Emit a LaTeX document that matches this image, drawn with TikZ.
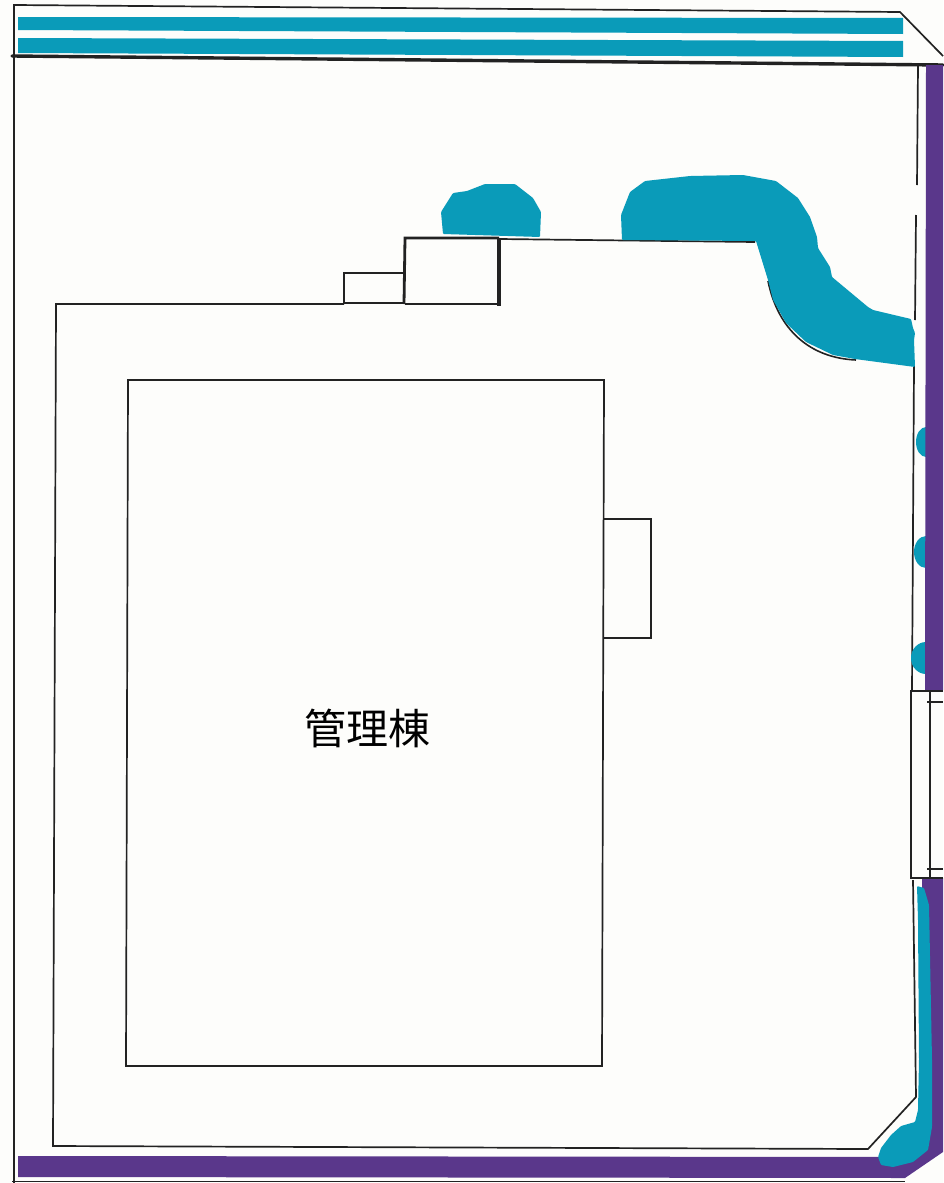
\documentclass[tikz,border=0pt]{standalone}
\usepackage{fontspec}
\newfontfamily\cjk{Noto Sans CJK JP}
\usepackage{tikz}
\definecolor{paper}{HTML}{FDFDFB}
\definecolor{pond}{HTML}{0A9BB9}
\definecolor{hedge}{HTML}{5A378B}
\definecolor{ink}{HTML}{222222}

\begin{document}
\begin{tikzpicture}[
  x=1pt, y=-1pt,
  wall/.style={draw=ink, line width=1.7pt},
  heavywall/.style={draw=ink, line width=2.8pt},
  pondfill/.style={fill=pond, rounded corners=1pt},
  hedgefill/.style={fill=hedge}] % picture units are the pixels of the plan

  \fill[paper] (0,0) rectangle (943,1183);
  \useasboundingbox (0,0) rectangle (943,1183);

  % site outline
  \draw[wall] (14,1183) -- (14,5) -- (900,12) -- (943,56);
  \draw[draw=ink, line width=.8pt] (12,1181) -- (905,1181);
  \fill[pond] (18,17) -- (903,18) -- (903,34) -- (18,30) -- cycle;
  \fill[pond] (18,38) -- (903,41) -- (903,57) -- (18,53) -- cycle;
  \draw[draw=ink, line width=3.4pt, line cap=round] (12,56) -- (943,65);

  % thin line inside the hedge
  \draw[wall] (918,65) -- (917,185);
  \draw[wall] (916,215) -- (915,320);
  \draw[wall] (914,366) -- (912,690);
  \draw[wall] (913,880) -- (916,1097) -- (868,1149) -- (53,1146) -- (56,304) -- (344,304);
  \draw[wall] (499,239) -- (755,242);

  % small ponds along the hedge
  \foreach \py/\pr/\px in {442/15/916, 552/16/914, 658/16/911}
    \fill[pond] (926,\py) ellipse ({926-\px} and \pr);

  % hedge
  \fill[hedgefill] (926,65) -- (943,65) -- (943,690) -- (925,690) -- cycle;
  \fill[hedgefill] (922,878) -- (943,878) -- (943,1152) -- (905,1178) -- (18,1177) -- (18,1156) -- (905,1157) -- (922,1130) -- cycle;

  % ponds
  \draw[draw=ink, line width=1.6pt] (768,281) .. controls (778,330) and (810,358) .. (856,360);
  \fill[pondfill] (441,212) -- (453,193) -- (467,191) -- (485,184) -- (515,184) -- (533,198) -- (541,212) -- (540,237) -- (443,234) -- cycle;
  \fill[pondfill] (622,240) -- (621,215) -- (630,192) -- (645,181) -- (690,176) -- (743,175) -- (776,181) -- (798,198) -- (810,217) -- (817,237) -- (818,248) -- (830,267) -- (832,277) -- (868,307) -- (873,310) -- (911,319) -- (913,328) -- (915,333) -- (914,340) -- (915,367) -- (855,359) -- (833,355) -- (806,342) -- (786,323) -- (773,300) -- (768,280) -- (756,241) -- cycle;
  \fill[pondfill] (917,886) -- (924,888) -- (929,905) -- (932,1060) -- (932,1127) -- (928,1150) -- (913,1162) -- (893,1167) -- (881,1165) -- (878,1157) -- (881,1148) -- (891,1135) -- (901,1126) -- (915,1122) -- (918,1110) -- (919,1060) -- (918,920) -- cycle;

  % gate
  \draw[heavywall] (943,691) -- (911,691) -- (911,878) -- (943,878);
  \draw[heavywall] (930,691) -- (930,878);
  \draw[wall] (927,702) -- (943,702);
  \draw[wall] (927,869) -- (943,869);

  % steps on the north side
  \draw[wall, line width=2.2pt] (344,304) -- (344,273) -- (404,273);
  \draw[heavywall] (344,303) -- (405,303);
  \draw[heavywall] (404,304) -- (405,238) -- (499,238);
  \draw[wall, line width=2.2pt] (405,304) -- (499,304);
  \draw[draw=ink, line width=3.2pt] (499,238) -- (499,306);

  % building
  \draw[wall] (128,380) -- (604,380) -- (602,1066) -- (126,1066) -- cycle;
  \draw[wall] (604,519) -- (651,519) -- (651,638) -- (603,638);
  \node (kanri) at (367,728) {\cjk\fontsize{42}{42}\selectfont 管理棟};
\end{tikzpicture}
\end{document}
